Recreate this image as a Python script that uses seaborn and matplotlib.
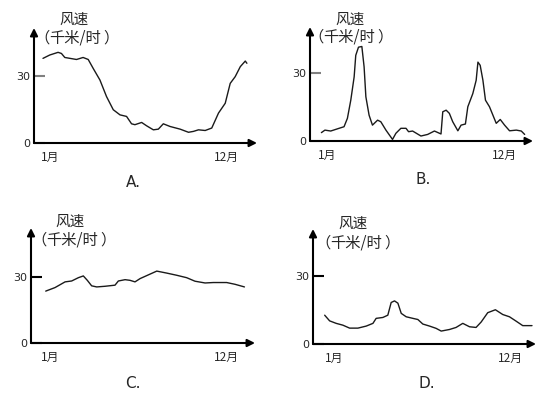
import seaborn as sns
import matplotlib.pyplot as plt
import pandas as pd

# 风速曲线 (x: 月份, y: 千米/时), 近似值
a_month = [0.58, 1.0, 1.52, 1.73, 1.94, 2.67, 3.08, 3.40, 3.71, 4.13, 4.54, 4.96, 5.38, 5.79,
           6.10, 6.31, 6.73, 7.04, 7.46, 7.77, 8.08, 8.50, 9.13, 9.65, 9.96, 10.27, 10.69,
           11.10, 11.52, 11.94, 12.25, 12.56, 12.88, 13.19, 13.29]
a_speed = [37.9, 39.4, 40.6, 40.1, 38.3, 37.4, 38.3, 37.4, 33.4, 28.2, 20.8, 14.9, 12.6, 11.9,
           8.6, 8.2, 9.2, 7.7, 5.9, 6.2, 8.6, 7.4, 6.2, 4.8, 5.2, 5.9, 5.6,
           6.7, 13.4, 17.8, 26.7, 29.7, 34.2, 36.7, 35.7]

b_month = [0.63, 0.85, 1.21, 1.73, 2.04, 2.25, 2.46, 2.67, 2.77, 2.94, 3.15, 3.29, 3.40, 3.60,
           3.81, 4.13, 4.33, 4.65, 5.06, 5.27, 5.58, 5.90, 6.06, 6.31, 6.83, 7.25, 7.67, 8.08,
           8.19, 8.40, 8.60, 8.81, 9.13, 9.33, 9.60, 9.75, 10.06, 10.27, 10.38, 10.52, 10.69,
           10.85, 11.10, 11.52, 11.77, 12.04, 12.35, 12.77, 13.08, 13.29]
b_speed = [3.7, 4.8, 4.4, 5.6, 6.3, 10.0, 18.0, 28.3, 37.8, 41.4, 41.7, 32.7, 19.5, 11.4,
           7.0, 9.2, 8.5, 4.8, 0.7, 3.4, 5.6, 5.6, 4.1, 4.4, 2.2, 2.9, 4.4, 3.1,
           12.9, 13.6, 12.2, 8.5, 4.5, 7.0, 7.5, 15.1, 20.9, 26.8, 34.8, 33.4, 26.8,
           18.0, 15.1, 7.8, 9.5, 7.0, 4.5, 4.8, 4.4, 2.9]

c_month = [0.73, 1.31, 1.94, 2.35, 2.77, 3.08, 3.33, 3.60, 3.92, 4.44, 5.06, 5.27, 5.69, 6.00,
           6.31, 6.63, 7.15, 7.67, 8.29, 8.92, 9.54, 10.06, 10.69, 11.21, 12.04, 12.56, 13.15]
c_speed = [23.6, 25.2, 27.8, 28.2, 29.7, 30.5, 28.5, 26.0, 25.5, 25.8, 26.3, 28.2, 28.8, 28.5,
           27.8, 29.3, 31.0, 32.7, 31.8, 30.8, 29.7, 28.1, 27.3, 27.5, 27.5, 26.7, 25.5]

d_month = [0.38, 0.69, 1.10, 1.52, 1.94, 2.46, 2.98, 3.40, 3.60, 4.02, 4.33, 4.54, 4.75, 4.96,
           5.17, 5.48, 5.90, 6.21, 6.52, 6.94, 7.35, 7.67, 8.19, 8.60, 9.02, 9.44, 9.85,
           10.17, 10.58, 11.06, 11.52, 11.94, 12.35, 12.77, 13.35]
d_speed = [12.7, 10.2, 9.1, 8.3, 7.0, 7.0, 7.9, 9.1, 11.3, 11.7, 12.7, 18.3, 19.0, 18.0,
           13.5, 12.0, 11.3, 10.8, 8.8, 7.9, 6.9, 5.7, 6.4, 7.3, 9.1, 7.6, 7.3,
           9.7, 13.8, 15.1, 13.0, 12.0, 10.1, 8.1, 8.1]

panel_names = ["A.", "B.", "C.", "D."]
y_ticks = [0, 30]
x_ticks = [1, 12]
x_tick_labels = ["1月", "12月"]
y_title = "风速"
y_unit = ["（", "千米/时", "）"]

sns.set_style("white")
plt.rcParams['font.family'] = ['Noto Sans CJK SC', 'DejaVu Sans']

W, H = 553, 400
fig = plt.figure(figsize=(W / 100, H / 100), dpi=100)


def fig_xy(x, y):
    return x / W, 1 - y / H


# 布局: 坐标轴的像素位置 (左, 右, 上, 下), x 范围, y 范围, 文字位置
layouts = [
    dict(box=(34, 257, 28, 143), xlim=(0.02, 13.92), ytop=51.5, tick_col="#808080",
         title=(74, 20), unit=(77, 38), name=(133, 182)),
    dict(box=(310, 533, 27, 141), xlim=(-0.08, 13.81), ytop=50.3, tick_col="#808080",
         title=(350, 20), unit=(351, 37), name=(423, 180)),
    dict(box=(31, 255, 228, 343), xlim=(-0.19, 13.81), ytop=52.3, tick_col="black",
         title=(70, 222), unit=(74, 240), name=(133, 383)),
    dict(box=(313, 536, 229, 344), xlim=(-0.35, 13.6), ytop=50.7, tick_col="black",
         title=(353, 224), unit=(358, 243), name=(427, 383)),
]
series = [(a_month, a_speed), (b_month, b_speed), (c_month, c_speed), (d_month, d_speed)]

for lay, (xs, ys), name in zip(layouts, series, panel_names):
    L, R, T, B = lay["box"]
    ax = fig.add_axes([L / W, 1 - B / H, (R - L) / W, (B - T) / H])
    df = pd.DataFrame({"month": xs, "speed": ys})
    sns.lineplot(data=df, x="month", y="speed", ax=ax, color="#1a1a1a", lw=1.0)
    ax.set_xlim(*lay["xlim"])
    ax.set_ylim(0, lay["ytop"])
    ax.patch.set_alpha(0)
    for s in ax.spines.values():
        s.set_visible(False)
    ax.set_xlabel("")
    ax.set_ylabel("")
    ax.set_yticks(y_ticks)
    ax.set_yticklabels([str(v) for v in y_ticks], fontsize=8, family="DejaVu Sans")
    ax.tick_params(axis="y", direction="in", length=8, width=1.5, color=lay["tick_col"], pad=3, left=True)
    ax.set_xticks(x_ticks)
    ax.set_xticklabels(x_tick_labels, fontsize=8.5)
    ax.tick_params(axis="x", length=0, pad=6)
    # 带箭头的坐标轴
    arrow = dict(arrowstyle="-|>", mutation_scale=11, lw=1.5, color="black", shrinkA=0, shrinkB=0)
    ax.annotate("", xy=(1, 0), xytext=(0, 0), xycoords="axes fraction", arrowprops=arrow)
    ax.annotate("", xy=(0, 1), xytext=(0, 0), xycoords="axes fraction", arrowprops=arrow)
    fig.text(*fig_xy(*lay["title"]), y_title, ha="center", va="center", fontsize=10.5)
    ux, uy = lay["unit"]
    for part, dx in zip(y_unit, [-35, -1.5, 34]):
        fig.text(*fig_xy(ux + dx, uy), part, ha="center", va="center", fontsize=11)
    fig.text(*fig_xy(*lay["name"]), name, ha="center", va="center", fontsize=11, family="DejaVu Sans")

fig.savefig("out.png", dpi=100)
